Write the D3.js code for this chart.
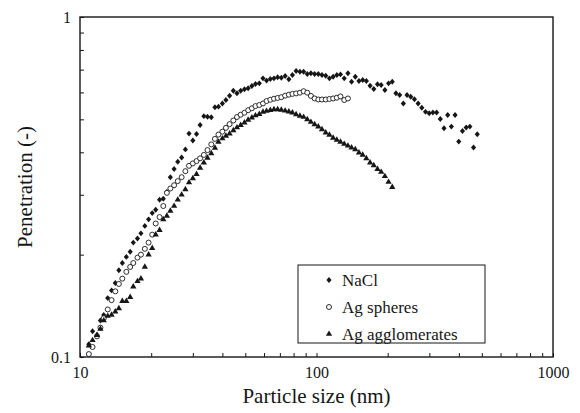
<!DOCTYPE html>
<html>
<head>
<meta charset="utf-8">
<script src="https://cdnjs.cloudflare.com/ajax/libs/d3/7.8.5/d3.min.js"></script>
<style>
    body { margin: 0; background: #fff; }
    svg { display: block; font-family: "Liberation Serif", "Times New Roman", serif; }
</style>
</head>
<body>
<div id="chart"></div>
<script>
// SMPS channel mid points (nm), shared by all three series
var sizes = [
    10.9, 11.3, 11.8, 12.2, 12.6, 13.1, 13.6, 14.1, 14.6, 15.1,
    15.7, 16.3, 16.8, 17.5, 18.1, 18.8, 19.5, 20.2, 20.9, 21.7,
    22.5, 23.3, 24.1, 25.0, 25.9, 26.9, 27.9, 28.9, 30.0, 31.1,
    32.2, 33.4, 34.6, 35.9, 37.2, 38.5, 40.0, 41.4, 42.9, 44.5,
    46.1, 47.8, 49.6, 51.4, 53.3, 55.2, 57.3, 59.4, 61.5, 63.8,
    66.1, 68.5, 71.0, 73.7, 76.4, 79.1, 82.0, 85.1, 88.2, 91.4,
    94.7, 98.2, 101.8, 105.5, 109.4, 113.4, 117.6, 121.9, 126.3, 131.0,
    135.8, 140.7, 145.9, 151.2, 156.8, 162.5, 168.5, 174.7, 181.1, 187.7,
    194.6, 201.7, 209.1, 216.7, 224.7, 232.9, 241.4, 250.3, 259.5, 269.0,
    278.8, 289.0, 299.6, 310.6, 322.0, 333.8, 346.0, 358.7, 371.8, 385.4,
    399.5, 414.2, 429.4, 445.1, 461.4, 478.3
];

var nacl = [
    0.109, 0.119, 0.116, 0.128, 0.133, 0.149, 0.157, 0.165, 0.180, 0.189,
    0.197, 0.204, 0.217, 0.223, 0.231, 0.243, 0.254, 0.265, 0.271, 0.290,
    0.292, 0.306, 0.338, 0.357, 0.375, 0.386, 0.408, 0.454, 0.433, 0.453,
    0.481, 0.511, 0.509, 0.507, 0.543, 0.545, 0.557, 0.570, 0.587, 0.607,
    0.597, 0.607, 0.613, 0.617, 0.627, 0.635, 0.638, 0.660, 0.650, 0.657,
    0.660, 0.665, 0.663, 0.671, 0.656, 0.675, 0.694, 0.690, 0.690, 0.680,
    0.683, 0.680, 0.680, 0.675, 0.672, 0.660, 0.667, 0.675, 0.678, 0.660,
    0.683, 0.645, 0.667, 0.648, 0.653, 0.648, 0.628, 0.614, 0.634, 0.631,
    0.610, 0.638, 0.645, 0.597, 0.590, 0.557, 0.590, 0.583, 0.573, 0.557,
    0.541, 0.526, 0.521, 0.524, 0.524, 0.501, 0.471, 0.515, 0.476, 0.515,
    0.430, 0.462, 0.473, 0.476, 0.413, 0.452
];

var agSpheres = [
    0.102, 0.107, 0.115, 0.122, 0.130, 0.138, 0.147, 0.156, 0.164, 0.170,
    0.178, 0.184, 0.189, 0.196, 0.200, 0.208, 0.217, 0.229, 0.247, 0.258,
    0.278, 0.304, 0.313, 0.320, 0.329, 0.338, 0.352, 0.365, 0.371, 0.377,
    0.384, 0.393, 0.406, 0.422, 0.438, 0.451, 0.460, 0.472, 0.484, 0.496,
    0.508, 0.516, 0.523, 0.532, 0.539, 0.547, 0.551, 0.557, 0.566, 0.571,
    0.575, 0.578, 0.581, 0.587, 0.591, 0.594, 0.596, 0.599, 0.605, 0.599,
    0.586, 0.576, 0.572, 0.572, 0.572, 0.574, 0.576, 0.579, 0.584, 0.570,
    0.576
];

var agAgglomerates = [
    0.108, 0.112, 0.116, 0.121, 0.128, 0.132, 0.133, 0.136, 0.139, 0.146,
    0.146, 0.150, 0.161, 0.167, 0.170, 0.184, 0.200, 0.209, 0.229, 0.236,
    0.254, 0.260, 0.269, 0.278, 0.290, 0.300, 0.311, 0.326, 0.335, 0.345,
    0.360, 0.373, 0.385, 0.397, 0.412, 0.429, 0.439, 0.447, 0.454, 0.464,
    0.473, 0.481, 0.489, 0.498, 0.506, 0.513, 0.518, 0.526, 0.529, 0.532,
    0.535, 0.535, 0.533, 0.530, 0.527, 0.523, 0.517, 0.512, 0.508, 0.500,
    0.491, 0.483, 0.476, 0.467, 0.457, 0.450, 0.441, 0.435, 0.429, 0.423,
    0.418, 0.413, 0.408, 0.399, 0.393, 0.384, 0.373, 0.366, 0.357, 0.350,
    0.340, 0.327, 0.316
];

var seriesNames = ["NaCl", "Ag spheres", "Ag agglomerates"];

var xTicks = [10, 20, 30, 40, 50, 60, 70, 80, 90, 100,
              200, 300, 400, 500, 600, 700, 800, 900, 1000];
var xLabels = [10, 100, 1000];
var yTicks = [0.1, 0.2, 0.3, 0.4, 0.5, 0.6, 0.7, 0.8, 0.9, 1];
var yLabels = [0.1, 1];

function penetrationChart(parent) {
    var _width = 580, _height = 413;
    var _left = 80, _right = 553, _top = 17, _bottom = 357;
    var ink = "#161616";
    var serif = "'Liberation Serif', 'Times New Roman', serif";

    var svg = d3.select(parent).append("svg")
        .attr("width", _width)
        .attr("height", _height)
        .attr("font-family", serif);

    var x = d3.scaleLog().domain([10, 1000]).range([_left, _right]);
    var y = d3.scaleLog().domain([0.1, 1]).range([_bottom, _top]);

    // axes, ticks pointing into the plot
    var xAxis = svg.append("g")
        .attr("transform", "translate(0," + _bottom + ")")
        .call(d3.axisBottom(x)
            .tickValues(xTicks)
            .tickSizeInner(-4)
            .tickSizeOuter(0)
            .tickPadding(10)
            .tickFormat(function(d) { return xLabels.indexOf(d) >= 0 ? d : ""; }));

    var yAxis = svg.append("g")
        .attr("transform", "translate(" + _left + ",0)")
        .call(d3.axisLeft(y)
            .tickValues(yTicks)
            .tickSizeInner(-4)
            .tickSizeOuter(0)
            .tickPadding(9)
            .tickFormat(function(d) { return yLabels.indexOf(d) >= 0 ? d : ""; }));

    [xAxis, yAxis].forEach(function(g) {
        g.attr("font-family", serif).attr("font-size", 16);
        g.select(".domain").remove();
        g.selectAll(".tick line").attr("stroke", ink).attr("stroke-width", 1);
        g.selectAll(".tick text").attr("fill", ink);
    });

    // frame
    svg.append("rect")
        .attr("x", _left)
        .attr("y", _top)
        .attr("width", _right - _left)
        .attr("height", _bottom - _top)
        .attr("fill", "none")
        .attr("stroke", ink)
        .attr("stroke-width", 1.4);

    function points(values) {
        return values.map(function(v, i) { return {size: sizes[i], p: v}; });
    }

    var diamond = d3.symbol(d3.symbolDiamond2, 17);
    var triangle = d3.symbol(d3.symbolTriangle, 17);

    svg.append("g").selectAll("path")
        .data(points(nacl))
        .enter().append("path")
        .attr("d", diamond)
        .attr("transform", function(d) { return "translate(" + x(d.size) + "," + y(d.p) + ") scale(1,1.15)"; })
        .attr("fill", ink);

    svg.append("g").selectAll("circle")
        .data(points(agSpheres))
        .enter().append("circle")
        .attr("cx", function(d) { return x(d.size); })
        .attr("cy", function(d) { return y(d.p); })
        .attr("r", 2.5)
        .attr("fill", "#fff")
        .attr("stroke", ink)
        .attr("stroke-width", 0.9);

    svg.append("g").selectAll("path")
        .data(points(agAgglomerates))
        .enter().append("path")
        .attr("d", triangle)
        .attr("transform", function(d) { return "translate(" + x(d.size) + "," + y(d.p) + ")"; })
        .attr("fill", ink);

    // axis titles
    svg.append("text")
        .attr("x", (_left + _right) / 2)
        .attr("y", 403)
        .attr("text-anchor", "middle")
        .attr("fill", ink)
        .attr("font-size", 21)
        .text("Particle size (nm)");

    svg.append("text")
        .attr("transform", "translate(32," + ((_top + _bottom) / 2) + ") rotate(-90)")
        .attr("text-anchor", "middle")
        .attr("fill", ink)
        .attr("font-size", 21)
        .text("Penetration (-)");

    // legend
    var legend = svg.append("g").attr("transform", "translate(298,265)");
    legend.append("rect")
        .attr("width", 187)
        .attr("height", 78)
        .attr("fill", "#fff")
        .attr("stroke", ink)
        .attr("stroke-width", 1);

    var rowY = [15, 42, 69];
    seriesNames.forEach(function(name, i) {
        var row = legend.append("g").attr("transform", "translate(31," + rowY[i] + ")");
        if (i === 0) {
            row.append("path").attr("d", diamond).attr("transform", "scale(1,1.15)").attr("fill", ink);
        } else if (i === 1) {
            row.append("circle").attr("r", 2.5).attr("fill", "#fff")
                .attr("stroke", ink).attr("stroke-width", 0.9);
        } else {
            row.append("path").attr("d", triangle).attr("fill", ink);
        }
        row.append("text")
            .attr("x", 13)
            .attr("dy", "0.35em")
            .attr("fill", ink)
            .attr("font-size", 17)
            .text(name);
    });
}

penetrationChart("#chart");
</script>
</body>
</html>
